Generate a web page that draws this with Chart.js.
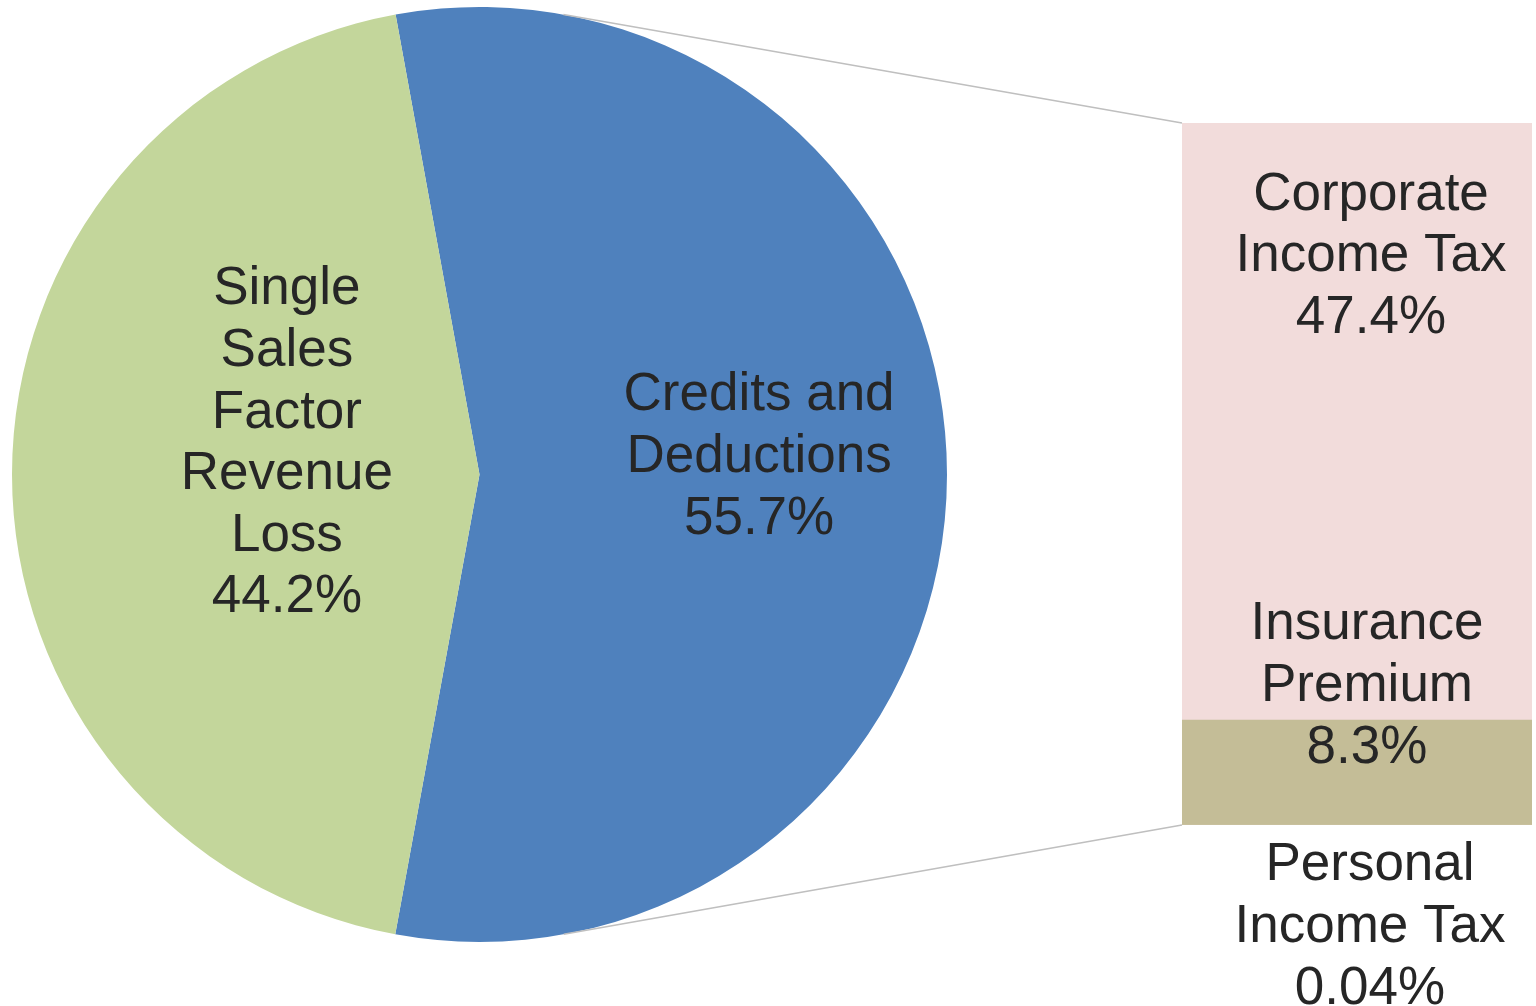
<!DOCTYPE html>
<html>
<head>
<meta charset="utf-8">
<script src="https://cdn.jsdelivr.net/npm/chart.js@4/dist/chart.umd.min.js"></script>
<style>
  html, body { margin: 0; padding: 0; background: #ffffff; }
  #wrap { position: relative; width: 1536px; height: 1006px; }
  canvas { position: absolute; left: 0; top: 0; }
</style>
</head>
<body>
<div id="wrap">
  <canvas id="pie" width="1536" height="1006"></canvas>
  <canvas id="bar" width="1536" height="1006"></canvas>
</div>
<script>
// ---- data ----
const pieCategories = ['Credits and Deductions', 'Single Sales Factor Revenue Loss'];
const pieValues = [55.7, 44.2];
const pieLabelWords = [['Credits and', 'Deductions'], ['Single', 'Sales', 'Factor', 'Revenue', 'Loss']];
const pieColors = ['#4F81BD', '#C3D69B'];

const barCategories = ['Personal Income Tax', 'Insurance Premium', 'Corporate Income Tax'];
const barValues = [0.04, 8.3, 47.4];
const barLabelWords = [['Personal', 'Income Tax'], ['Insurance', 'Premium'], ['Corporate', 'Income Tax']];
const barColors = ['#C4BD97', '#C4BD97', '#F2DCDB'];

// ---- styling ----
const FONT_SIZE = 53;
const FONT = FONT_SIZE + 'px "Liberation Sans", Arial, sans-serif';
const TEXT_COLOR = '#262626';
const LINE_H = 61.6;
const CAP = 0.716 * FONT_SIZE;

function drawBlock(ctx, lines, cx, cy) {
  ctx.save();
  ctx.font = FONT;
  ctx.fillStyle = TEXT_COLOR;
  ctx.textAlign = 'center';
  ctx.textBaseline = 'alphabetic';
  const n = lines.length;
  lines.forEach((t, i) => {
    ctx.fillText(t, cx, cy + (i - (n - 1) / 2) * LINE_H + CAP / 2);
  });
  ctx.restore();
}

// label placement (relative to slice: fraction of radius along mid-angle + vertical shift)
const piePlacement = [{ frac: 0.598, dy: -21.5 }, { frac: 0.412, dy: -35 }];

const pieLabelPlugin = {
  id: 'pieLabels',
  afterDatasetsDraw(chart) {
    const ctx = chart.ctx;
    chart.getDatasetMeta(0).data.forEach((arc, i) => {
      const p = arc.getProps(['x', 'y', 'startAngle', 'endAngle', 'outerRadius'], true);
      const mid = (p.startAngle + p.endAngle) / 2;
      const pl = piePlacement[i];
      const cx = p.x + Math.cos(mid) * p.outerRadius * pl.frac;
      const cy = p.y + Math.sin(mid) * p.outerRadius * pl.frac + pl.dy;
      drawBlock(ctx, pieLabelWords[i].concat([pieValues[i] + '%']), cx, cy);
    });
  }
};

const pieChart = new Chart(document.getElementById('pie'), {
  type: 'pie',
  data: {
    labels: pieCategories,
    datasets: [{
      data: pieValues,
      backgroundColor: pieColors,
      borderWidth: 0
    }]
  },
  options: {
    responsive: false,
    animation: false,
    rotation: -10.34,
    layout: { padding: { left: 12, right: 589, top: 7, bottom: 64 } },
    plugins: { legend: { display: false }, tooltip: { enabled: false } }
  },
  plugins: [pieLabelPlugin]
});

// bar label placement: reference edge of the segment + offsets
const barPlacement = [
  { ref: 'base', dx: 13, dy: 98 },
  { ref: 'top', dx: 10, dy: -38 },
  { ref: 'top', dx: 14, dy: 129.5 }
];

const barOverlayPlugin = {
  id: 'barOverlay',
  afterDatasetsDraw(chart) {
    const ctx = chart.ctx;
    // connector lines from pie to bar
    const arc = pieChart.getDatasetMeta(0).data[0];
    const p = arc.getProps(['x', 'y', 'startAngle', 'endAngle', 'outerRadius'], true);
    const topEl = chart.getDatasetMeta(barValues.length - 1).data[0];
    const botEl = chart.getDatasetMeta(0).data[0];
    const left = topEl.x - topEl.width / 2;
    const sx = p.x - p.outerRadius * Math.cos(p.startAngle);
    const sy = p.y + p.outerRadius * Math.sin(p.startAngle);
    const ex = p.x - p.outerRadius * Math.cos(p.endAngle);
    const ey = p.y + p.outerRadius * Math.sin(p.endAngle);
    ctx.save();
    ctx.strokeStyle = '#BFBFBF';
    ctx.lineWidth = 1.5;
    ctx.beginPath();
    ctx.moveTo(sx, sy); ctx.lineTo(left, topEl.y);
    ctx.moveTo(ex, ey); ctx.lineTo(left, botEl.base);
    ctx.stroke();
    ctx.restore();
    // labels
    barValues.forEach((v, i) => {
      const el = chart.getDatasetMeta(i).data[0];
      const pl = barPlacement[i];
      const refY = pl.ref === 'top' ? el.y : el.base;
      drawBlock(ctx, barLabelWords[i].concat([v + '%']), el.x + pl.dx, refY + pl.dy);
    });
  }
};

const barTotal = barValues.reduce((a, b) => a + b, 0);

new Chart(document.getElementById('bar'), {
  type: 'bar',
  data: {
    labels: ['Credits and Deductions'],
    datasets: barValues.map((v, i) => ({
      label: barCategories[i],
      data: [v],
      backgroundColor: barColors[i],
      borderWidth: 0,
      barPercentage: 1,
      categoryPercentage: 1
    }))
  },
  options: {
    responsive: false,
    animation: false,
    layout: { padding: { left: 1182, right: 4, top: 123, bottom: 181 } },
    scales: {
      x: { stacked: true, display: false },
      y: { stacked: true, display: false, min: 0, max: barTotal }
    },
    plugins: { legend: { display: false }, tooltip: { enabled: false } }
  },
  plugins: [barOverlayPlugin]
});
</script>
</body>
</html>
